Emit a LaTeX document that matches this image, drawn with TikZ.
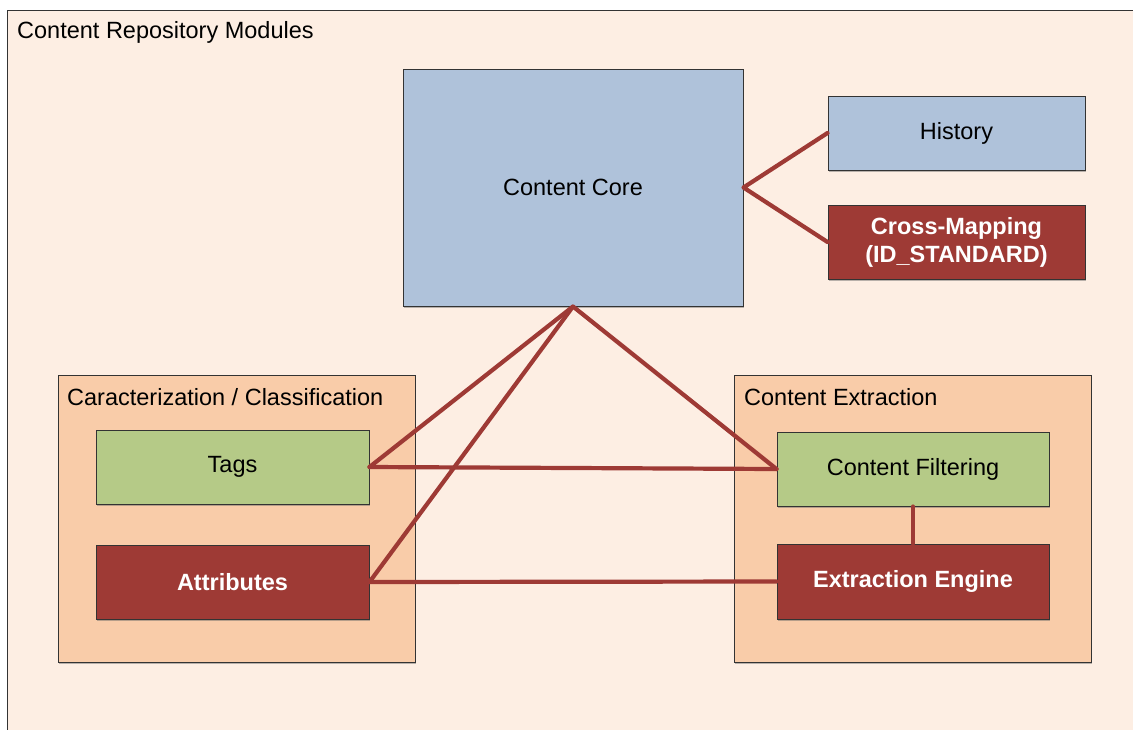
\documentclass[tikz,border=0pt]{standalone}
\usepackage{fontspec}
\setmainfont{Liberation Sans}
\usetikzlibrary{shadows}
\definecolor{bgpeach}{HTML}{FDEEE3}
\definecolor{grouporange}{HTML}{F9CCA9}
\definecolor{coreblue}{HTML}{AFC2DA}
\definecolor{leafgreen}{HTML}{B5CA87}
\definecolor{brickred}{HTML}{9E3A35}
\definecolor{edgegray}{HTML}{333333}
\tikzset{
  module/.style={draw=edgegray, line width=1pt, inner sep=0pt, align=center,
    font=\fontsize{23.5}{28}\selectfont,
    drop shadow={shadow xshift=0.8pt, shadow yshift=-1.6pt, opacity=0.45, fill=black!60}},
  bluebox/.style={module, fill=coreblue, text=black},
  greenbox/.style={module, fill=leafgreen, text=black},
  redbox/.style={module, fill=brickred, text=white, font=\fontsize{23.5}{28}\selectfont\bfseries},
  groupbox/.style={module, fill=grouporange},
  caption/.style={anchor=west, inner sep=0pt, font=\fontsize{23.5}{28}\selectfont},
  link/.style={draw=brickred, line width=4.2pt, line cap=round, line join=round}
}
\begin{document}
\begin{tikzpicture}[x=1pt, y=-1pt]
  \useasboundingbox (0,0) rectangle (1133,729);
  \clip (0,0) rectangle (1133,729);
  % outer container
  \draw[fill=bgpeach, draw=edgegray, line width=1pt] (7,10) rectangle (1145,745);
  \node[caption] (title) at (17,32) {Content Repository Modules};

  % core and side modules
  \node[bluebox, minimum width=340pt, minimum height=237pt] (core) at (573,187.5) {Content Core};
  \node[bluebox, minimum width=257pt, minimum height=74pt] (history) at (956.5,133) {History};
  \node[redbox, minimum width=257pt, minimum height=74pt] (cross) at (956.5,242) {Cross-Mapping\\(ID\_STANDARD)};

  % left group
  \node[groupbox, minimum width=357pt, minimum height=287pt] (leftgrp) at (236.5,518.5) {};
  \node[caption] (lefttitle) at (67,397) {Caracterization / Classification};
  \node[greenbox, minimum width=273pt, minimum height=74pt] (tags) at (232.5,467) {Tags};
  \node[redbox, minimum width=273pt, minimum height=74pt] (attrs) at (232.5,582) {Attributes};

  % right group
  \node[groupbox, minimum width=357pt, minimum height=287pt] (rightgrp) at (912.5,518.5) {};
  \node[caption] (righttitle) at (744,397) {Content Extraction};
  \node[greenbox, minimum width=272pt, minimum height=74pt] (filter) at (913,469) {Content Filtering};
  \node[redbox, minimum width=272pt, minimum height=75pt] (engine) at (913,581.5) {Extraction Engine};

  % connectors
  \draw[link] (history.west) -- (core.east) -- (cross.west);
  \draw[link] (tags.east) -- (core.south) -- (filter.west);
  \draw[link] (core.south) -- (attrs.east);
  \draw[link] (tags.east) -- (filter.west);
  \draw[link] (attrs.east) -- (engine.west);
  \draw[link] (filter.south) -- (engine.north);
\end{tikzpicture}
\end{document}
